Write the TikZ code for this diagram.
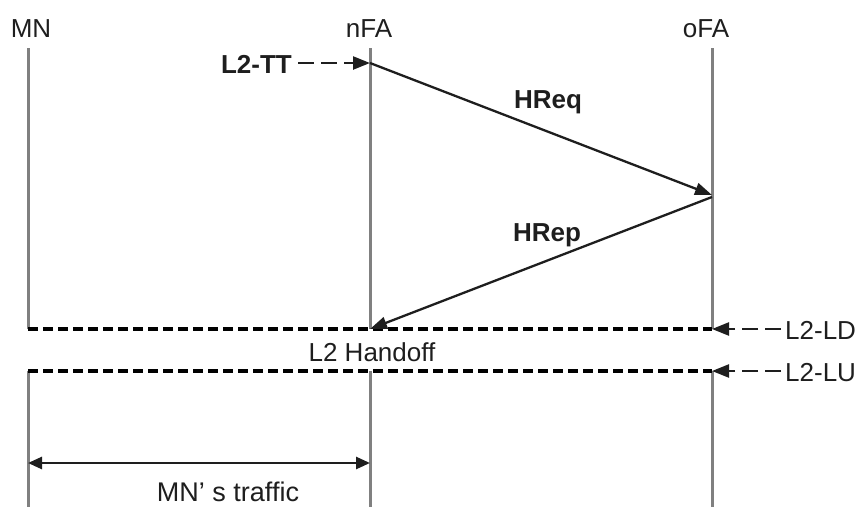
\documentclass[tikz,border=0pt]{standalone}
\usepackage{fontspec}
\setmainfont{Liberation Sans}
\usetikzlibrary{arrows.meta}
\definecolor{lifegray}{HTML}{808080}
\definecolor{ink}{HTML}{1E1E1E}
\begin{document}
\begin{tikzpicture}[x=1pt,y=-1pt,
  lifeline/.style={draw=lifegray,line width=3pt},
  msg/.style={draw=ink,line width=2.3pt,-{Triangle[length=17pt,width=12pt]}},
  phase/.style={draw=black,line width=3.2pt,dash pattern=on 10pt off 5pt},
  trigger/.style={draw=ink,line width=2.4pt,dash pattern=on 16pt off 7pt,
    -{Triangle[length=17pt,width=13pt]}},
  span/.style={draw=ink,line width=2.6pt,
    {Triangle[length=14pt,width=12pt]}-{Triangle[length=14pt,width=12pt]}},
  lbl/.style={font=\fontsize{26}{30}\selectfont,text=ink,inner sep=0pt},
  boldlbl/.style={lbl,font=\fontsize{26}{30}\selectfont\bfseries},
]
\useasboundingbox (0,0) rectangle (868,509);

% entity headers
\node[lbl,anchor=base] (mn)  at (31,37) {MN};
\node[lbl,anchor=base] (nfa) at (369,37) {nFA};
\node[lbl,anchor=base] (ofa) at (706,37) {oFA};

% lifeline anchor points
\coordinate (mnTop)  at (28,48);
\coordinate (mnLD)   at (28,329);
\coordinate (mnLU)   at (28,371);
\coordinate (mnBot)  at (28,507);
\coordinate (nfaTop) at (370,48);
\coordinate (nfaLD)  at (370,329);
\coordinate (nfaLU)  at (370,371);
\coordinate (nfaBot) at (370,507);
\coordinate (ofaTop) at (712,48);
\coordinate (ofaLD)  at (712,329);
\coordinate (ofaLU)  at (712,371);
\coordinate (ofaBot) at (712,507);

% lifelines, interrupted during the L2 handoff
\draw[lifeline] (mnTop)  -- (mnLD);
\draw[lifeline] (mnLU)   -- (mnBot);
\draw[lifeline] (nfaTop) -- (nfaLD);
\draw[lifeline] (nfaLU)  -- (nfaBot);
\draw[lifeline] (ofaTop) -- (ofaLD);
\draw[lifeline] (ofaLU)  -- (ofaBot);

% handoff boundaries
\draw[phase] (mnLD) -- (ofaLD);
\draw[phase] (mnLU) -- (ofaLU);

% handoff request / reply
\coordinate (reqS) at (370,63);
\coordinate (reqE) at (712,195);
\coordinate (repS) at (712,197);
\coordinate (repE) at (370,329);
\draw[msg] (reqS) -- (reqE);
\draw[msg] (repS) -- (repE);
\node[boldlbl,anchor=base] (hreq) at (548,108) {HReq};
\node[boldlbl,anchor=base] (hrep) at (547,241) {HRep};

% layer-2 triggers
\node[boldlbl,anchor=base east] (tt) at (292,73) {L2-TT};
\draw[trigger,shorten <=6pt] (tt.east |- reqS) -- (reqS);
\node[lbl,anchor=base west] (ld) at (785,339) {L2-LD};
\draw[trigger,shorten <=4pt] (ld.west |- ofaLD) -- (ofaLD);
\node[lbl,anchor=base west] (lu) at (785,381) {L2-LU};
\draw[trigger,shorten <=4pt] (lu.west |- ofaLU) -- (ofaLU);

\node[lbl,anchor=base] (handoff) at (372,361) {L2 Handoff};

% traffic interval
\coordinate (trS) at (28,463);
\coordinate (trE) at (370,463);
\draw[span] (trS) -- (trE);
\node[lbl,anchor=base,font=\fontsize{27}{31}\selectfont] (traffic) at (228,501) {MN' s traffic};
\end{tikzpicture}
\end{document}
